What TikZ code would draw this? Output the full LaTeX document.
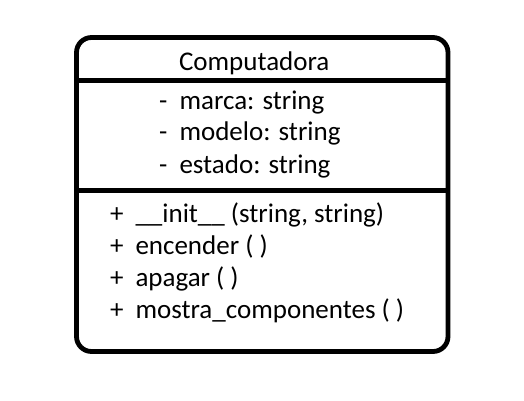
\documentclass[tikz,border=0pt]{standalone}
\usepackage{fontspec}
\setmainfont{Carlito}
\begin{document}
\begin{tikzpicture}[x=1pt,y=-1pt,
  txt/.style={anchor=base west,inner sep=0pt,outer sep=0pt,font=\fontsize{27}{31}\selectfont},
  frame/.style={line width=4.8pt,rounded corners=15pt},
  rule/.style={line width=4.8pt}]
\useasboundingbox (0,0) rectangle (524,400);
\draw[frame] (76.5,37.5) rectangle (448,351.5);
\coordinate (d1l) at (76.5,80.8);
\coordinate (d1r) at (448,80.8);
\coordinate (d2l) at (76.5,190.8);
\coordinate (d2r) at (448,190.8);
\draw[rule] (d1l) -- (d1r);
\draw[rule] (d2l) -- (d2r);
\node[txt] (title) at (179,70) {Computadora};
\node[txt] (s1) at (159,109) {-};
\node[txt] (a1) at (179.5,109) {marca: string};
\node[txt] (s2) at (159,140.5) {-};
\node[txt] (a2) at (179.5,140.5) {modelo: string};
\node[txt] (s3) at (159,173) {-};
\node[txt] (a3) at (179.5,173) {estado: string};
\node[txt] (p1) at (110,222.7) {+};
\node[txt] (m1) at (135.5,222.7) {\_\_init\_\_ (string, string)};
\node[txt] (p2) at (110,254.5) {+};
\node[txt] (m2) at (135.5,254.5) {encender ( )};
\node[txt] (p3) at (110,286.5) {+};
\node[txt] (m3) at (135.5,286.5) {apagar ( )};
\node[txt] (p4) at (110,318.3) {+};
\node[txt] (m4) at (135.5,318.3) {mostra\_componentes ( )};
\end{tikzpicture}
\end{document}
